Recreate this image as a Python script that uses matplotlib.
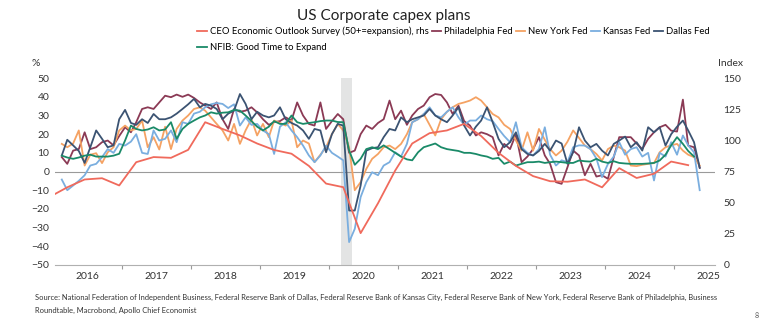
import numpy as np
import pandas as pd
import matplotlib
matplotlib.use("Agg")
import matplotlib.pyplot as plt
import matplotlib.dates as mdates

plt.rcParams['font.family'] = ['Lato', 'DejaVu Sans']

# monthly survey data, Jan 2016 - Apr 2025 (left axis, %)
dallas = [8.6, 17, 14, 11, 4.6, 13, 22, 17.5, 13, 14, 28, 33,
          26, 25, 28, 26, 30.8, 28, 28, 29, 31, 33.5, 36, 38.9,
          34.4, 36.2, 35.3, 33.5, 28, 31, 32.6, 41.5, 36.2, 28, 32, 30,
          29, 30, 34.4, 28, 26, 24.6, 22, 17.5, 22.8, 22, 10.3, 20,
          25.5, 24.6, -20.9, -20.9, -7.5, 11.2, 12.5, 13, 18.4, 22.8, 22, 29,
          26.4, 28, 29, 30, 33.5, 30, 28, 26.4, 30, 34.4, 24.6, 19.3,
          24, 27.3, 34.4, 26.4, 17.5, 13, 15.7, 21, 12, 9.4, 8.6, 11,
          14.8, 11.2, 16.6, 15, 4.1, 10.3, 23.7, 16.6, 13, 14.8, 11.2, 8.6,
          14.8, 16.6, 18.7, 13, 15.7, 11.2, 23.7, 21, 23.7, 13.9, 20, 24,
          27.3, 22, 15.7, 2]
philly = [7.7, 4.1, 11.2, 12, 21, 12, 13, 15.7, 16.6, 14, 19, 23.7,
          21, 26.4, 33.5, 34.4, 33.5, 37, 40.6, 39.8, 41.2, 40, 41.2, 39.4,
          37, 35.3, 33.5, 37, 28, 22.8, 33.5, 32, 32.6, 34.4, 31.7, 28,
          25, 26.4, 27, 29, 27.3, 37, 30, 25.5, 24.6, 37, 22.8, 27,
          30.8, 28, 10, 11.2, 20, 24.6, 22.8, 26, 28, 38, 28, 32.6,
          25, 30, 33.5, 35.3, 39.8, 41.5, 41, 37, 30.8, 35.3, 27, 24.6,
          19.3, 21, 20, 18.4, 8.6, 14.8, 12, 20, 5, 8, 12, 18.4,
          8.6, 4.1, -5.7, -6.6, 2.3, 11.2, 8.6, -2, 4.1, -2.7, -2, -3.9,
          7.7, 18.4, 18.4, 18.4, 15, 12, 17.5, 21, 23.7, 25, 21.9, 21.4,
          38.5, 13.9, 13, 2]
newyork = [14.8, 13, 15, 22, 3.2, 9, 9.8, 4.5, 10.3, 13, 22, 24.6,
           22, 22.8, 27.3, 13, 18.4, 11.8, 24, 12, 22.8, 27.3, 30, 33.5,
           34.4, 32.6, 29, 25.5, 22, 16.6, 25.5, 14.8, 22, 28, 19.3, 25.5,
           18.4, 27.3, 26, 24.6, 27.3, 13, 16.6, 15, 5, 9, 13, 20,
           25.5, 22, 13, -10, -5.7, 1.4, 6.8, 9.4, 13, 13.9, 12, 14.8,
           20, 26.4, 28, 30.8, 25, 19.3, 28, 32, 34.4, 36.2, 37, 38,
           39.8, 38, 34.4, 30.8, 29, 25, 22.8, 16.6, 11.2, 21, 11.2, 22.8,
           17, 12, 8.6, 11.2, 16, 22, 18, 13.9, 12, 9.4, 5.9, 12,
           13.9, 13, 11.2, 3.2, 2.9, 3.6, 4.1, 4.5, 10.3, 13, 14, 14.8,
           11.2, 9, 7.7, 3.2]
kansas = [-4.3, -10, -7.5, -5, -2, 3.2, 4.1, 7.7, 12, 10, 14.8, 13.9,
          16, 20, 10, 9.4, 22, 16.6, 17.5, 22, 15.7, 26.4, 25.5, 31,
          32, 34.4, 36, 36.7, 36.2, 34, 36, 24.6, 29, 25, 25.5, 22,
          20, 9.4, 24, 26.4, 22, 18.4, 13.9, 8.6, 5, 8.6, 13.9, 10,
          8, 6, -37.8, -30.7, -13.7, -5.7, -0.4, -2, 3.2, 5, 10.3, 8,
          14.8, 26.4, 28, 30.8, 34.4, 30, 29, 32, 34.4, 29, 25, 27.3,
          27.3, 30, 28, 27, 22.8, 19, 15.7, 26.4, 13, 10, 8.6, 12,
          23.7, 9, 3.2, 6, 5, 13, 14, 13.9, 12, 7, -3, 4,
          8, 15.7, 9, 12, 13, 8, 10, -4.8, 10, 8, 15.7, 9,
          19.3, 14, 10.3, -10]
nfib = [8.5, 7.5, 6.8, 7.5, 8.5, 9, 8, 8, 8, 8.5, 9.5, 16.6,
        24.6, 22.8, 22, 22.5, 23.7, 22, 22.5, 26.4, 17.5, 22.8, 25.5, 27.3,
        29, 30, 31.7, 31, 31.5, 31.7, 33, 32.6, 30, 27, 24, 22,
        24, 27, 25.5, 25.5, 30, 26.4, 25.5, 26, 26.4, 27, 27.3, 27.3,
        26.5, 26.4, 11.2, 3.6, 6.8, 12, 13, 12, 14, 12, 10, 8,
        6.5, 6, 10.3, 13, 14, 15, 13, 12, 11.5, 11, 10, 10,
        9.4, 8.6, 8, 6.8, 7.3, 4.1, 5.3, 3.2, 4.1, 5, 5, 5.3,
        4.6, 5, 5.3, 5, 4.6, 4.6, 5.9, 5.5, 5.3, 6.8, 5.3, 4.6,
        5.5, 4.6, 4.3, 4.1, 4.1, 4.1, 4.3, 4.6, 5.9, 9, 14, 18.4,
        14.8, 11, 8]

# quarterly CEO Economic Outlook index, Q4 2015 - Q1 2025 (rhs)
ceo = [54.8, 62.3, 68.6, 69.6, 63.8, 82.5, 86.6, 86, 92.4,
       114.6, 109.2, 104, 97.5, 92.3, 89.3, 79.5, 65.3,
       62.4, 25.5, 49.5, 75.8, 97.5, 105.8, 108, 113.3,
       103.5, 90, 79.5, 71.3, 67.2, 66.8, 68.6, 62.3,
       77.7, 69.8, 73.2, 83, 80.1]

months = pd.date_range("2016-01-15", periods=len(dallas), freq="MS") + pd.Timedelta(days=14)
quarters = pd.date_range("2015-12-01", periods=len(ceo), freq="3MS") + pd.Timedelta(days=14)

fig = plt.figure(figsize=(7.68, 3.27), dpi=100)
ax = fig.add_axes([0.0716, 0.19, 0.8594, 0.571])
ax2 = ax.twinx()

ax.axvspan(pd.Timestamp("2020-03-01"), pd.Timestamp("2020-05-01"), color="#e3e4e4", lw=0, zorder=0)
ax.axhline(0, color="#9a9a9a", lw=0.8, zorder=1)

lw = 1.3
l_ph, = ax.plot(months, philly, color="#8b3a55", lw=lw, label="Philadelphia Fed")
l_ny, = ax.plot(months, newyork, color="#f5a263", lw=lw, label="New York Fed")
l_ks, = ax.plot(months, kansas, color="#7aaedf", lw=lw, label="Kansas Fed")
l_da, = ax.plot(months, dallas, color="#3b5372", lw=lw, label="Dallas Fed")
l_nf, = ax.plot(months[:len(nfib)], nfib, color="#1a8a68", lw=lw, label="NFIB: Good Time to Expand")
l_ceo, = ax2.plot(quarters, ceo, color="#f06a5c", lw=lw,
                  label="CEO Economic Outlook Survey (50+=expansion), rhs")

ax.set_xlim(pd.Timestamp("2016-01-10"), pd.Timestamp("2025-08-04"))
ax.set_ylim(-50, 50)
ax2.set_ylim(0, 150)
ax.set_yticks(range(-50, 51, 10))
ax2.set_yticks(range(0, 151, 25))

ax.xaxis.set_major_locator(mdates.YearLocator())
ax.xaxis.set_major_formatter(plt.NullFormatter())
ax.xaxis.set_minor_locator(mdates.MonthLocator(bymonth=7, bymonthday=1))
ax.xaxis.set_minor_formatter(mdates.DateFormatter("%Y"))
ax.tick_params(axis="x", which="major", length=3, color="#9a9a9a", width=0.8)
ax.tick_params(axis="x", which="minor", length=0, labelsize=7.5, colors="#333333", pad=5)
ax.tick_params(axis="y", length=0, labelsize=7.5, colors="#333333", pad=4)
ax2.tick_params(axis="y", length=0, labelsize=7.5, colors="#333333", pad=6)

for a in (ax, ax2):
    for s in ("top", "left", "right"):
        a.spines[s].set_visible(False)
    a.spines["bottom"].set_color("#b0b0b0")
    a.spines["bottom"].set_linewidth(0.8)
ax2.spines["bottom"].set_visible(False)

fig.text(0.5, 0.952, "US Corporate capex plans", ha="center", va="center", fontsize=11, color="#222222")
fig.text(0.047, 0.805, "%", ha="center", va="center", fontsize=7.5, color="#333333")
fig.text(0.935, 0.805, "Index", ha="left", va="center", fontsize=7.5, color="#333333")

handles = [l_ceo, l_nf, l_ph, l_ny, l_ks, l_da]
fig.legend(handles, [h.get_label() for h in handles], ncol=5, loc="upper left",
           bbox_to_anchor=(0.257, 0.918), frameon=False, fontsize=6.8,
           handlelength=1.0, handletextpad=0.3, columnspacing=0.35,
           labelspacing=0.75, borderaxespad=0, borderpad=0)

fig.text(0.045, 0.09, "Source: National Federation of Independent Business, Federal Reserve Bank of Dallas, "
         "Federal Reserve Bank of Kansas City, Federal Reserve Bank of New York, Federal Reserve Bank of Philadelphia, Business",
         fontsize=5.45, color="#333333", va="center")
fig.text(0.045, 0.052, "Roundtable, Macrobond, Apollo Chief Economist", fontsize=5.45, color="#333333", va="center")
fig.text(0.985, 0.035, "8", fontsize=5, color="#555555", ha="center", va="center")

fig.savefig("out.png", dpi=100)
